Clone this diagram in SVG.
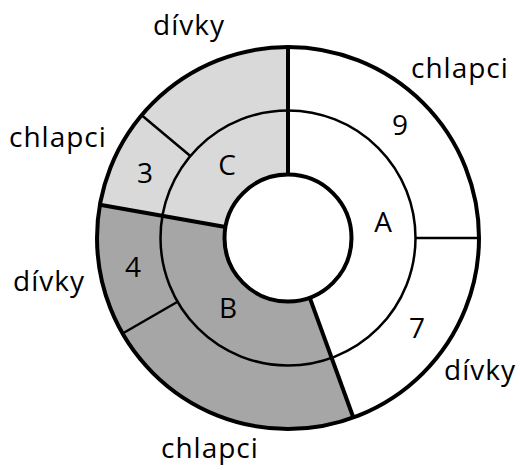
<svg xmlns="http://www.w3.org/2000/svg" width="520" height="470" viewBox="0 0 520 470">
<style>
  .ring { fill: none; stroke: #000; }
  .thick { stroke: #000; stroke-width: 4; fill: none; }
  .thin { stroke: #000; stroke-width: 2.5; fill: none; }
  text { font-family: "Open Sans", "Liberation Sans", sans-serif; fill: #000; }
  .word { font-size: 28px; letter-spacing: 1px; }
  .num { font-size: 28px; text-anchor: middle; }
</style>
<rect width="520" height="470" fill="#fff"/>
<g id="sectors">
  <path id="sector-C" d="M 288 47 A 191 191 0 0 0 99.90 204.83 L 225.47 226.97 A 63.5 63.5 0 0 1 288 174.5 Z" fill="#d9d9d9"/>
  <path id="sector-B" d="M 99.90 204.83 A 191 191 0 0 0 353.33 417.48 L 309.72 297.67 A 63.5 63.5 0 0 1 225.47 226.97 Z" fill="#a6a6a6"/>
</g>
<g id="rings">
  <circle cx="288" cy="238" r="191" class="ring" stroke-width="4"/>
  <circle cx="288" cy="238" r="127.5" class="ring" stroke-width="2.5"/>
  <circle cx="288" cy="238" r="63.5" fill="#fff" stroke="#000" stroke-width="4"/>
</g>
<g id="dividers">
  <line class="thick" x1="288" y1="47" x2="288" y2="174.5"/>
  <line class="thick" x1="99.90" y1="204.83" x2="225.47" y2="226.97"/>
  <line class="thick" x1="353.33" y1="417.48" x2="309.72" y2="297.67"/>
  <line class="thin" x1="479" y1="238" x2="415.5" y2="238"/>
  <line class="thin" x1="141.69" y1="115.23" x2="190.33" y2="156.04"/>
  <line class="thin" x1="122.59" y1="333.5" x2="177.58" y2="301.75"/>
</g>
<g id="labels">
  <text class="word" x="153" y="35">dívky</text>
  <text class="word" x="411" y="78">chlapci</text>
  <text class="word" x="9" y="147">chlapci</text>
  <text class="word" x="13" y="291">dívky</text>
  <text class="word" x="444" y="380">dívky</text>
  <text class="word" x="161" y="458">chlapci</text>
</g>
<g id="values">
  <text class="num" x="400" y="135">9</text>
  <text class="num" x="383" y="232">A</text>
  <text class="num" x="145" y="183">3</text>
  <text class="num" x="227" y="175">C</text>
  <text class="num" x="133" y="277">4</text>
  <text class="num" x="228" y="318">B</text>
  <text class="num" x="417" y="338">7</text>
</g>
</svg>
